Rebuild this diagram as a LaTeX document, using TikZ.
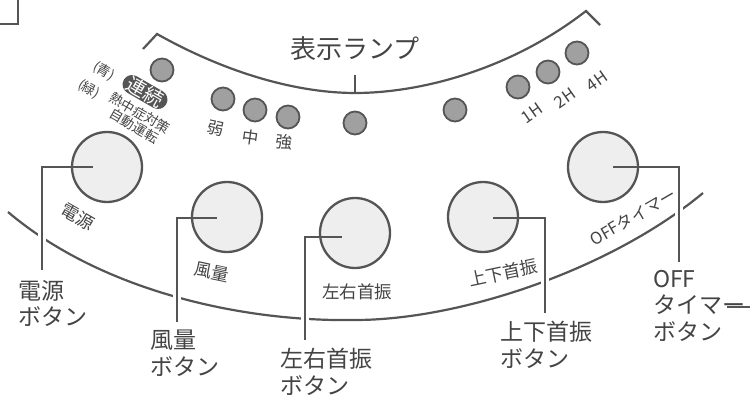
\documentclass[tikz,border=0pt]{standalone}
\usepackage{fontspec}
\setmainfont{Noto Sans CJK JP}
\definecolor{ln}{HTML}{555555}
\definecolor{tx}{HTML}{444444}
\definecolor{lampc}{HTML}{A0A0A0}
\definecolor{btnc}{HTML}{EEEEEE}
\tikzset{
 lamp/.style={circle, draw=ln, fill=lampc, line width=1.8pt, minimum size=23pt, inner sep=0},
 btn/.style={circle, draw=ln, fill=btnc, line width=2.3pt, minimum size=70pt, inner sep=0},
 arcline/.style={draw=ln, line width=2.2pt},
 leader/.style={draw=ln, line width=2.8pt},
 casing/.style={draw=white, line width=8pt},
 biglabel/.style={text=tx, font=\fontsize{23}{26.5}\selectfont, align=left, anchor=north west, inner sep=0},
 small/.style={text=tx, font=\fontsize{17.5}{19}\selectfont, inner sep=0},
 lampt/.style={text=tx, font=\fontsize{16.5}{18}\selectfont, inner sep=0},
 tiny/.style={text=tx, font=\fontsize{13.5}{15}\selectfont, inner sep=0},
}
\begin{document}
\begin{tikzpicture}[x=1pt,y=-1pt]
\useasboundingbox (0,0) rectangle (750,398);
% corner mark
\draw[ln, line width=2.8pt] (18,0) -- (18,24) -- (0,24);
% upper arc
\coordinate (ab) at (355,93);
\draw[arcline] (143,49) -- (157,34) .. controls (230,75) and (300,93) .. (ab)
  .. controls (420,93) and (510,70) .. (586,11) -- (600,25);
\node[text=tx, font=\fontsize{26}{28}\selectfont, inner sep=0] (title) at (355,49) {表示ランプ};
\coordinate (st) at (355,75);
\draw[arcline] (st) -- (ab);
% lower arc
\draw[arcline] (8,212) .. controls (100,290) and (240,322) .. (355,320)
  .. controls (460,320) and (610,270) .. (703,193);
% lamps
\node[lamp] (l0) at (162,70) {};
\node[lamp] (l1) at (223,99) {};
\node[lamp] (l2) at (255,110) {};
\node[lamp] (l3) at (288,117) {};
\node[lamp] (l4) at (355,123) {};
\node[lamp] (l5) at (455,110) {};
\node[lamp] (l6) at (518,87) {};
\node[lamp] (l7) at (548,72) {};
\node[lamp] (l8) at (577,53) {};
% lamp labels
\node[lampt, rotate=-12] (t1) at (216,128) {弱};
\node[lampt, rotate=-8] (t2) at (251,137) {中};
\node[lampt, rotate=-5] (t3) at (284,142) {強};
\node[lampt, rotate=35] (t6) at (532,113) {1H};
\node[lampt, rotate=35] (t7) at (565,98) {2H};
\node[lampt, rotate=35] (t8) at (597,81) {4H};
\node[tiny, rotate=-30] (ao) at (104,71) {(青)};
\node[rotate=-30, fill=ln, text=white, rounded corners=9.5pt, inner xsep=5pt, inner ysep=0.5pt,
  font=\fontsize{19.5}{21}\selectfont] (renzoku) at (145,92) {連続};
\node[tiny, rotate=-30] (midori) at (89,89) {(緑)};
\node[tiny, rotate=-30] (nechu) at (140,113) {熱中症対策};
\node[tiny, rotate=-30] (jido) at (134,126) {自動運転};
% leader geometry
\coordinate (c1a) at (93,167);  \coordinate (c1b) at (42,167);  \coordinate (c1c) at (42,270);
\coordinate (c2a) at (217,218); \coordinate (c2b) at (177,218); \coordinate (c2c) at (177,322);
\coordinate (c3a) at (342,237); \coordinate (c3b) at (305,237); \coordinate (c3c) at (305,340);
\coordinate (c4a) at (493,218); \coordinate (c4b) at (545,218); \coordinate (c4c) at (545,313);
\coordinate (c5a) at (613,167); \coordinate (c5b) at (679,167); \coordinate (c5c) at (679,262);
% casings (gaps in the lower arc)
\draw[casing] (c1b) -- (c1c);
\draw[casing] (c2b) -- (c2c);
\draw[casing] (c3b) -- (c3c);
\draw[casing] (c4b) -- (c4c);
\draw[casing] (c5b) -- (c5c);
% buttons
\node[btn] (pw) at (107,167) {};
\node[btn] (wd) at (227,217) {};
\node[btn] (lr) at (355,233) {};
\node[btn] (ud) at (483,217) {};
\node[btn] (off) at (603,167) {};
% button texts
\node[small, rotate=-30] (pwt) at (78,217) {電源};
\node[small, rotate=-12] (wdt) at (212,272) {風量};
\node[small] (lrt) at (357,292) {左右首振};
\node[small, rotate=12] (udt) at (503,273) {上下首振};
\node[small, rotate=30, font=\fontsize{16.5}{18}\selectfont] (offt) at (633,217) {OFFタイマー};
% leaders
\draw[leader] (c1a) -- (c1b) -- (c1c);
\draw[leader] (c2a) -- (c2b) -- (c2c);
\draw[leader] (c3a) -- (c3b) -- (c3c);
\draw[leader] (c4a) -- (c4b) -- (c4c);
\draw[leader] (c5a) -- (c5b) -- (c5c);
% labels
\node[biglabel] (pwl) at (18,280) {電源\\ボタン};
\node[biglabel] (wdl) at (150,330) {風量\\ボタン};
\node[biglabel] (lrl) at (280,348) {左右首振\\ボタン};
\node[biglabel] (udl) at (500,321) {上下首振\\ボタン};
\node[biglabel] (offl) at (653,270) {OFF\\タイマー\\ボタン};
\coordinate (ra) at (727,307); \coordinate (rb) at (750,307);
\draw[leader] (ra) -- (rb);
\end{tikzpicture}
\end{document}
